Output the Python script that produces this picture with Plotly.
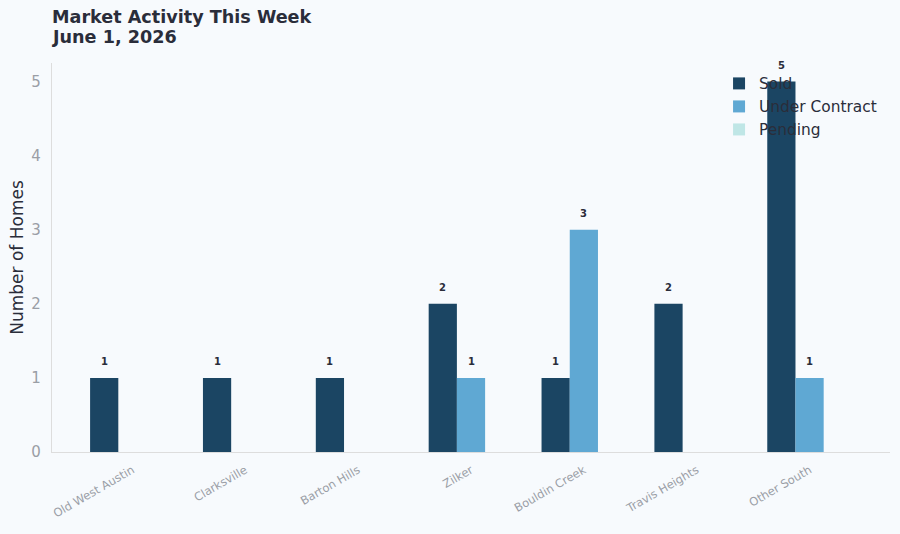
import plotly.graph_objects as go

categories = ["Old West Austin", "Clarksville", "Barton Hills", "Zilker",
              "Bouldin Creek", "Travis Heights", "Other South"]
sold = [1, 1, 1, 2, 1, 2, 5]
under_contract = [0, 0, 0, 1, 3, 0, 1]
pending = [0, 0, 0, 0, 0, 0, 0]
title_lines = ["Market Activity This Week", "June 1, 2026"]

series = [
    ("Sold", sold, "#1b4563"),
    ("Under Contract", under_contract, "#5fa8d3"),
    ("Pending", pending, "#bfe6e6"),
]

FONT = "DejaVu Sans"
BG = "#f7fafd"
W = 0.25

fig = go.Figure()
annotations = []
n = len(series)
for i, (name, vals, color) in enumerate(series):
    off = (i - (n - 1) / 2) * W - W / 2
    fig.add_trace(go.Bar(
        x=list(range(len(categories))), y=vals, name=name,
        marker=dict(color=color, line=dict(width=0)),
        width=W, offset=off,
    ))
    for j, v in enumerate(vals):
        if v > 0:
            annotations.append(dict(
                x=j + off + W / 2, y=v + 0.22, xref="x", yref="y",
                text=f"<b>{v}</b>", showarrow=False, yanchor="middle",
                font=dict(family=FONT, size=10, color="#2a2d3a"),
            ))

for k, (line, shift) in enumerate(zip(title_lines, [46, 26])):
    annotations.append(dict(
        x=0, y=1, xref="paper", yref="paper", xanchor="left", yanchor="middle",
        yshift=shift, xshift=-2, showarrow=False, text=f"<b>{line}</b>",
        font=dict(family=FONT, size=17.6, color="#2a2d3a"),
    ))

fig.update_layout(
    width=900, height=534,
    margin=dict(l=52, r=10, t=63, b=82),
    paper_bgcolor=BG, plot_bgcolor=BG,
    barmode="overlay",
    font=dict(family=FONT),
    showlegend=True,
    legend=dict(x=0.796, y=0.99, xanchor="left", yanchor="top",
                bgcolor="rgba(0,0,0,0)", font=dict(size=15.4, color="#2a2d3a"),
                itemwidth=30, tracegroupgap=2),
    annotations=annotations,
    xaxis=dict(
        range=[-0.7125, 6.7125], tickmode="array",
        tickvals=list(range(len(categories))), ticktext=categories,
        tickangle=-30, tickfont=dict(size=11.5, color="#9a9ea6"),
        ticklabelstandoff=6,
        showgrid=False, zeroline=False, showline=True, linecolor="#dddddd",
        linewidth=1.2, ticks="",
    ),
    yaxis=dict(
        range=[0, 5.25], dtick=1, showgrid=False, zeroline=False,
        showline=True, linecolor="#dddddd", linewidth=1.2, ticks="",
        tickfont=dict(size=15, color="#9a9ea6"), ticklabelstandoff=7,
        title=dict(text="Number of Homes", font=dict(size=17, color="#2a2d3a"),
                   standoff=3),
    ),
)

fig.write_html("out.html")
